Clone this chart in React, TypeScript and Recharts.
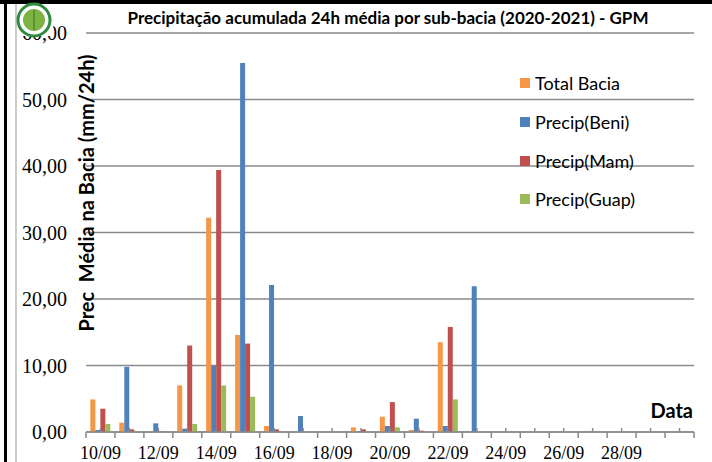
import { BarChart, Bar, XAxis, YAxis, CartesianGrid } from 'recharts'

const dates = [
  '10/09', '11/09', '12/09', '13/09', '14/09', '15/09', '16/09', '17/09', '18/09', '19/09', '20/09',
  '21/09', '22/09', '23/09', '24/09', '25/09', '26/09', '27/09', '28/09', '29/09', '30/09',
]
const totalBacia = [4.9, 1.4, 0.1, 7.0, 32.2, 14.6, 0.9, 0, 0.1, 0.7, 2.3, 0.3, 13.5, 0, 0, 0, 0, 0, 0, 0, 0]
const precipBeni = [0.3, 9.8, 1.3, 0.5, 10.0, 55.5, 22.1, 2.4, 0, 0.1, 0.9, 2.0, 0.9, 21.9, 0, 0, 0, 0, 0, 0, 0]
const precipMam = [3.5, 0.4, 0.1, 13.0, 39.4, 13.3, 0.4, 0, 0, 0.4, 4.5, 0.2, 15.8, 0, 0, 0, 0, 0, 0, 0, 0]
const precipGuap = [1.2, 0.1, 0, 1.2, 7.0, 5.3, 0.1, 0, 0, 0, 0.7, 0, 4.9, 0, 0, 0, 0, 0, 0, 0, 0]
const yTicks = [0, 10, 20, 30, 40, 50, 60]

const SERIES = [
  { key: 'total', name: 'Total Bacia', color: '#F79646' },
  { key: 'beni', name: 'Precip(Beni)', color: '#4F81BD' },
  { key: 'mam', name: 'Precip(Mam)', color: '#C0504D' },
  { key: 'guap', name: 'Precip(Guap)', color: '#9BBB59' },
]

const data = dates.map((d, i) => ({
  date: d,
  total: totalBacia[i],
  beni: precipBeni[i],
  mam: precipMam[i],
  guap: precipGuap[i],
}))

const GRID = '#8a8a8a'
const SANS = 'Lato, "Open Sans", sans-serif'
const SERIF = '"Liberation Serif", "Times New Roman", serif'
const BAND = 608 / dates.length

function DateTick(props: any) {
  const { x, y, payload } = props
  const i = payload.index
  const last = i === dates.length - 1
  return (
    <g>
      <line x1={x} x2={x} y1={y - 4} y2={y} stroke={GRID} strokeWidth={1.5} />
      <line x1={x - BAND / 2} x2={x - BAND / 2} y1={y} y2={y + 6} stroke={GRID} strokeWidth={1.5} />
      {last && <line x1={x + BAND / 2} x2={x + BAND / 2} y1={y} y2={y + 6} stroke={GRID} strokeWidth={1.5} />}
      {i % 2 === 0 && !last && (
        <text x={x} y={y + 27} textAnchor="middle" fontFamily={SERIF} fontSize={18} fill="#000">
          {payload.value}
        </text>
      )}
    </g>
  )
}

// legend drawn by hand so it does not eat plot space
function LegendBox() {
  return (
    <div style={{ position: 'absolute', left: 520, top: 63.6, fontFamily: SANS, fontSize: 18, color: '#000' }}>
      {SERIES.map((s) => (
        <div key={s.key} style={{ height: 38.8, display: 'flex', alignItems: 'center' }}>
          <span style={{ width: 10, height: 10, background: s.color, marginRight: 5, display: 'inline-block' }} />
          {s.name}
        </div>
      ))}
    </div>
  )
}

export default function App() {
  return (
    <div style={{ position: 'absolute', left: 0, top: 0, width: 712, height: 462, background: '#fff' }}>
      <BarChart
        width={712}
        height={462}
        data={data}
        margin={{ top: 33, right: 18, bottom: 0, left: 0 }}
        barCategoryGap="15%"
        barGap={0}
      >
        <CartesianGrid vertical={false} stroke={GRID} strokeWidth={1.5} />
        <XAxis
          dataKey="date"
          interval={0}
          height={30}
          tickLine={false}
          tickSize={0}
          tickMargin={0}
          axisLine={{ stroke: GRID, strokeWidth: 1.5 }}
          tick={<DateTick />}
        />
        <YAxis
          width={86}
          domain={[0, 60]}
          ticks={yTicks}
          axisLine={false}
          tickLine={false}
          tickSize={6}
          tickMargin={13}
          tick={{ fontFamily: SERIF, fontSize: 20, fill: '#000' }}
          tickFormatter={(v: number) => v.toFixed(2).replace('.', ',')}
        />
        <YAxis
          yAxisId="right"
          orientation="right"
          width={0}
          domain={[0, 60]}
          tick={false}
          tickLine={false}
          axisLine={{ stroke: GRID, strokeWidth: 1.5 }}
        />
        {SERIES.map((s) => (
          <Bar key={s.key} dataKey={s.key} name={s.name} fill={s.color} isAnimationActive={false} />
        ))}
      </BarChart>
      <LegendBox />
      <svg width={712} height={462} style={{ position: 'absolute', left: 0, top: 0, pointerEvents: 'none' }}>
        <rect x={0} y={0} width={712} height={4} fill="#000" />
        <rect x={4} y={0} width={3} height={462} fill="#000" />
        <line x1={16} x2={16} y1={4} y2={462} stroke="#999" strokeWidth={1} />
        <text x={388} y={24} textAnchor="middle" fontFamily={SANS} fontWeight="bold" fontSize={17} fill="#000">
          Precipitação acumulada 24h média por sub-bacia (2020-2021) - GPM
        </text>
        <text
          x={0}
          y={0}
          transform="translate(86 193) rotate(-90)"
          textAnchor="middle"
          dominantBaseline="central"
          fontFamily={SANS}
          fontWeight="bold"
          fontSize={20}
          fill="#000"
          style={{ whiteSpace: 'pre' }}
        >
          {'Prec  Média na Bacia (mm/24h)'}
        </text>
        <text x={693} y={418} textAnchor="end" fontFamily={SANS} fontWeight="bold" fontSize={20} fill="#000">
          Data
        </text>
        <rect x={17} y={4} width={36} height={32} fill="#fff" />
        <circle cx={34} cy={20} r={16} fill="#fff" stroke="#2f8a3c" strokeWidth={3} />
        <circle cx={34} cy={20} r={11} fill="#7cb342" />
        <path d="M34 10 L34 30" stroke="#3e7d2a" strokeWidth={1.2} />
      </svg>
    </div>
  )
}
